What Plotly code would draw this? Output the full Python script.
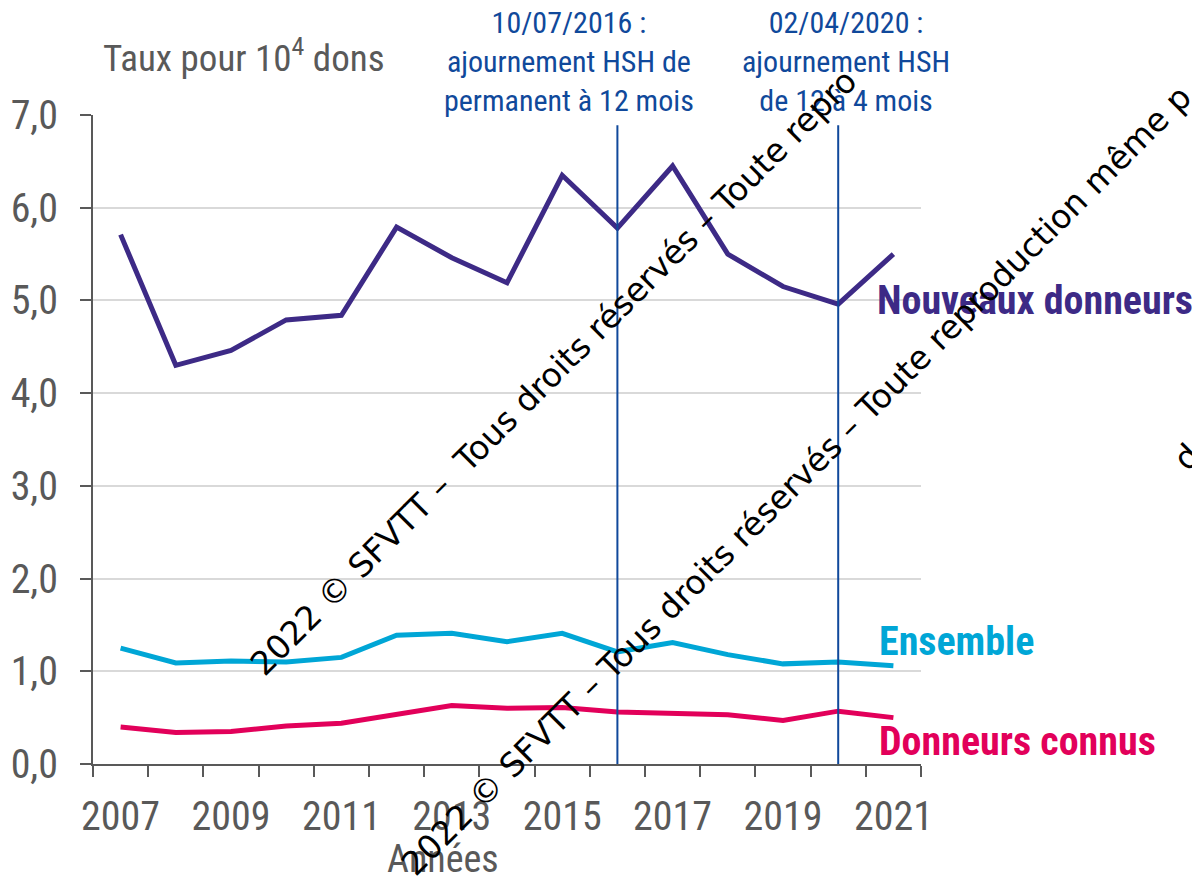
import plotly.graph_objects as go

# Data (taux pour 10^4 dons)
years = list(range(2007, 2022))
nouveaux = [5.71, 4.30, 4.46, 4.79, 4.84, 5.79, 5.46, 5.19, 6.35, 5.78, 6.45, 5.50, 5.15, 4.96, 5.50]
ensemble = [1.25, 1.09, 1.11, 1.10, 1.15, 1.39, 1.41, 1.32, 1.41, 1.21, 1.31, 1.18, 1.08, 1.10, 1.06]
connus = [0.40, 0.34, 0.35, 0.41, 0.44, 0.54, 0.63, 0.60, 0.61, 0.56, 0.54, 0.53, 0.47, 0.57, 0.50]
series_names = ["Nouveaux donneurs", "Ensemble", "Donneurs connus"]
label_years = [2007, 2009, 2011, 2013, 2015, 2017, 2019, 2021]
event_years = [2016, 2020]
event_texts = [
    "10/07/2016 :<br>ajournement HSH de<br>permanent à 12 mois",
    "02/04/2020 :<br>ajournement HSH<br>de 12 à 4 mois",
]
y_ticks = [0, 1, 2, 3, 4, 5, 6, 7]

_PURPLE = "#3d2a86"
_CYAN = "#00a6d6"
_PINK = "#e2005a"
_BLUE = "#10499b"
_GREY = "#595959"
_GRID = "#d9d9d9"
_NARROW = "Liberation Sans Narrow, Arial Narrow, Roboto Condensed, sans-serif"

# plot area in pixels (used to place free text)
L, R, T, B = 93, 921, 115, 764
W, H = 1192, 876


def px(x, y):
    """Pixel position -> paper coordinates."""
    return (x - L) / (R - L), (B - y) / (B - T)


fig = go.Figure()
colors = [_PURPLE, _CYAN, _PINK]
for vals, color, name in zip([nouveaux, ensemble, connus], colors, series_names):
    fig.add_trace(go.Scatter(x=years, y=vals, mode="lines", name=name,
                             line=dict(color=color, width=5), cliponaxis=False))

# series labels at the right end (pixel placement)
for color, name, (lx, ly) in zip(colors, series_names, [(875, 300), (877, 641), (877, 741)]):
    x, y = px(lx, ly)
    fig.add_annotation(x=x, y=y, xref="paper", yref="paper", text=f"<b>{name}</b>",
                       showarrow=False, xanchor="left", yanchor="middle",
                       font=dict(family=_NARROW, size=40, color=color))

for yr, txt, cx in zip(event_years, event_texts, [569, 846]):
    fig.add_shape(type="line", x0=yr, x1=yr, y0=0, y1=6.89, xref="x", yref="y",
                  line=dict(color=_BLUE, width=2))
    x, _ = px(cx, 0)
    fig.add_annotation(x=x, y=1, xref="paper", yref="paper",
                       text=txt, showarrow=False, xanchor="center", yanchor="bottom", yshift=-5,
                       font=dict(family=_NARROW, size=30, color=_BLUE), align="center")

# axis titles
fig.add_annotation(x=0.01, y=1.0, xref="paper", yref="paper", yshift=33,
                   text="Taux pour 10<sup>4</sup> dons", showarrow=False,
                   xanchor="left", yanchor="bottom",
                   font=dict(family=_NARROW, size=37, color=_GREY))
ax, ay = px(443, 856)
fig.add_annotation(x=ax, y=ay, xref="paper", yref="paper", text="Années", showarrow=False,
                   xanchor="center", yanchor="middle", yshift=-3,
                   font=dict(family=_NARROW, size=38, color=_GREY))

# watermark
wm = [
    ("2022 © SFVTT –  Tous droits réservés – Toute repro", 553, 372),
    ("2022 © SFVTT – Tous droits réservés – Toute reproduction même p", 796, 480),
    ("d", 1186, 457),
]
for txt, x, y in wm:
    wx, wy = px(x, y)
    fig.add_annotation(x=wx, y=wy, xref="paper", yref="paper", text=txt, showarrow=False,
                       xanchor="center", yanchor="middle", textangle=-45,
                       font=dict(family="DejaVu Sans", size=33, color="black"))

fig.update_layout(
    width=W, height=H,
    margin=dict(l=L, r=W - R, t=T, b=H - B),
    paper_bgcolor="white", plot_bgcolor="white",
    showlegend=False, separators=", ",
    font=dict(family=_NARROW, color=_GREY),
)
fig.update_xaxes(
    range=[2006.5, 2021.5], tickvals=label_years, ticks="outside", ticklen=0,
    tickfont=dict(size=40, color=_GREY), ticklabelstandoff=16,
    showline=True, linecolor=_GREY, linewidth=2, showgrid=False, zeroline=False,
    minor=dict(tick0=2006.5, dtick=1, ticks="outside", ticklen=11, tickcolor=_GREY,
               tickwidth=2, showgrid=False),
)
fig.update_yaxes(
    range=[0, 7], tickvals=y_ticks, tickformat=".1f", ticks="outside", ticklen=11,
    tickcolor=_GREY, tickwidth=2, tickfont=dict(size=40, color=_GREY), ticklabelstandoff=14,
    showline=True, linecolor=_GREY, linewidth=2, showgrid=True, gridcolor=_GRID,
    gridwidth=2, zeroline=False,
)

# the page's default 8px body margin would shift the figure
fig.write_html("out.html", config={"displayModeBar": False},
               post_script="document.body.style.margin = '0';")
